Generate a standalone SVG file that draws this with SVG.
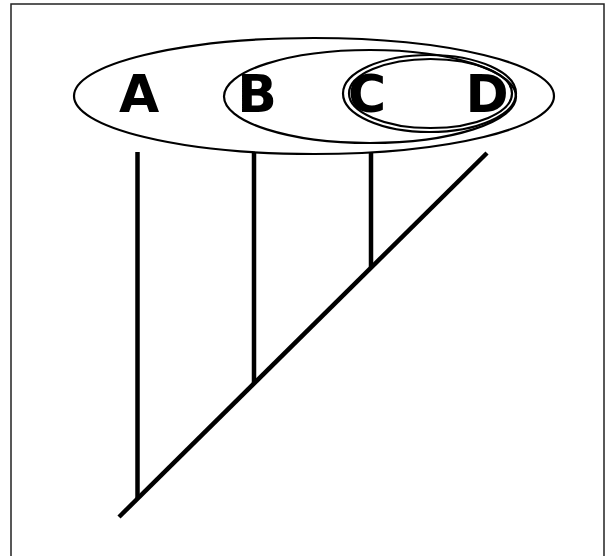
<svg xmlns="http://www.w3.org/2000/svg" width="615" height="556" viewBox="0 0 615 556">
<style>
.set{fill:none;stroke:#000;stroke-width:2.2}
.br{fill:none;stroke:#000;stroke-width:4.5;stroke-linecap:butt}
.lbl{font-family:"DejaVu Sans",Verdana,sans-serif;font-weight:bold;font-size:52px;fill:#000;text-anchor:middle}
</style>
<rect x="0" y="0" width="615" height="556" fill="#fff"/>
<rect x="11" y="4" width="593" height="560" fill="none" stroke="#222" stroke-width="1.5"/>
<g id="set-ABCD"><ellipse class="set" cx="314" cy="96" rx="240" ry="58"/></g>
<g id="set-BCD"><ellipse class="set" cx="370" cy="96.5" rx="146" ry="46.5"/></g>
<g id="set-CD"><ellipse class="set" cx="429.5" cy="93.5" rx="86.5" ry="38.5"/><ellipse class="set" cx="430.5" cy="93.5" rx="81.5" ry="34.5"/></g>
<g id="node-A"><text class="lbl" x="139" y="112">A</text></g>
<g id="node-B"><text class="lbl" x="257" y="112">B</text></g>
<g id="node-C"><text class="lbl" x="367" y="112">C</text></g>
<g id="node-D"><text class="lbl" x="487" y="112">D</text></g>
<g id="connectors">
<line class="br" x1="119" y1="517" x2="487" y2="153"/>
<line class="br" x1="137.5" y1="152" x2="137.5" y2="499"/>
<line class="br" x1="254" y1="152" x2="254" y2="384"/>
<line class="br" x1="371" y1="152" x2="371" y2="268"/>
</g>
</svg>
